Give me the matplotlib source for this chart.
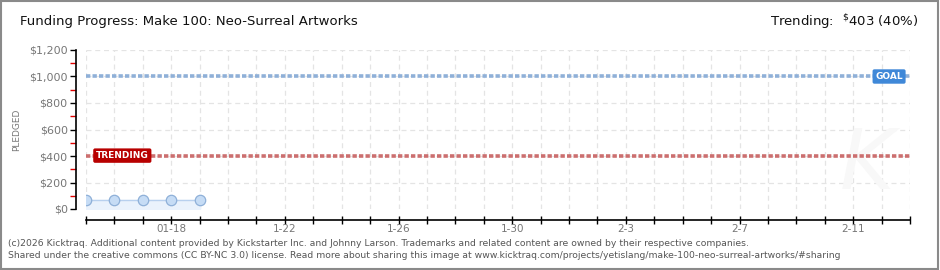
import matplotlib
matplotlib.use('Agg')
import matplotlib.pyplot as plt
from matplotlib.patches import Rectangle
import numpy as np

# data
start_labels = ['01-18', '1-22', '1-26', '1-30', '2-3', '2-7', '2-11']
label_days = [3, 7, 11, 15, 19, 23, 27]   # days after 1-15
n_days = 29
pledge_days = [0, 1, 2, 3, 4]
pledged = [65, 65, 65, 65, 65]
goal = 1000
trending = 403
y_ticks = [0, 200, 400, 600, 800, 1000, 1200]
y_tick_labels = ['$0', '$200', '$400', '$600', '$800', '$1,000', '$1,200']


def main():
	fig = plt.figure(figsize=(9.4, 2.7), dpi=100)
	ax = fig.add_axes([86/940, 61/270, 824/940, 159/270])

	# grid
	for d in range(n_days + 1):
		ax.axvline(d, color='#e4e4e4', lw=0.9, ls=(0, (4, 3)), zorder=0)
	for y in y_ticks[1:]:
		ax.axhline(y, color='#e4e4e4', lw=0.9, ls=(0, (4, 3)), zorder=0)

	# goal / trending lines
	ax.axhline(goal, color='#8fb0d8', lw=2.6, ls=(0, (1.2, 0.6)), zorder=2)
	ax.axhline(trending, color='#cc6f6f', lw=2.6, ls=(0, (1.2, 0.6)), zorder=2)

	# pledged series
	ax.fill_between(pledge_days, 0, pledged, color='#eaf2fc', zorder=1)
	ax.plot(pledge_days, pledged, color='#b8d0ee', lw=1, zorder=3)
	ax.plot(pledge_days, pledged, 'o', ms=7.5, mfc='#c6dcf5', mec='#8fb0d8', mew=0.9, zorder=4)

	# tags
	ax.text(0.35, trending, 'TRENDING', color='white', fontsize=6.5, fontweight='bold',
		ha='left', va='center', zorder=5,
		bbox=dict(boxstyle='round,pad=0.3,rounding_size=0.2', fc='#b80000', ec='none'))
	ax.text(28.75, goal, 'GOAL', color='white', fontsize=6.5, fontweight='bold',
		ha='right', va='center', zorder=5,
		bbox=dict(boxstyle='round,pad=0.3,rounding_size=0.2', fc='#3f88d8', ec='none'))

	# faint watermark
	ax.text(27.5, 330, 'K', fontsize=60, color='#f8f8f8', style='italic',
		ha='center', va='center', zorder=0)

	ax.set_xlim(0, n_days)
	ax.set_ylim(0, 1200)

	ax.spines['top'].set_visible(False)
	ax.spines['right'].set_visible(False)
	ax.spines['left'].set_position(('outward', 7.2))
	ax.spines['bottom'].set_position(('outward', 8))
	ax.spines['left'].set_linewidth(1.2)
	ax.spines['bottom'].set_linewidth(1.2)

	ax.set_xticks(range(n_days + 1))
	xl = [''] * (n_days + 1)
	for d, l in zip(label_days, start_labels):
		xl[d] = l
	ax.set_xticklabels(xl)
	ax.set_yticks(y_ticks)
	ax.set_yticklabels(y_tick_labels)
	ax.set_yticks(np.arange(100, 1200, 200), minor=True)
	ax.tick_params(axis='y', which='minor', length=4, color='#e00000', width=1)
	ax.tick_params(axis='both', which='major', length=4, width=1, color='black',
		labelsize=8, labelcolor='#777777', pad=2)
	ax.tick_params(axis='x', direction='inout', length=6, pad=0, labelsize=7.5)

	ax.set_ylabel('PLEDGED', fontsize=6.5, color='#777777', labelpad=6)

	# header
	fig.text(20/940, 1 - 22/270, 'Funding Progress: Make 100: Neo-Surreal Artworks',
		fontsize=9.5, color='#111111', va='center', ha='left')
	fig.text(918/940, 1 - 22/270, r'Trending:  $^{\$}$403 (40%)', fontsize=9.5,
		color='#111111', va='center', ha='right')

	# footer
	fig.text(8/940, 1 - 243/270,
		'(c)2026 Kicktraq. Additional content provided by Kickstarter Inc. and Johnny Larson. '
		'Trademarks and related content are owned by their respective companies.',
		fontsize=6.7, color='#555555', va='center', ha='left')
	fig.text(8/940, 1 - 256/270,
		'Shared under the creative commons (CC BY-NC 3.0) license. Read more about sharing this image at '
		'www.kicktraq.com/projects/yetislang/make-100-neo-surreal-artworks/#sharing',
		fontsize=6.7, color='#555555', va='center', ha='left')

	# border
	fig.patches.append(Rectangle((0.001, 0.002), 0.997, 0.995, transform=fig.transFigure,
		fill=False, ec='#8a8a8a', lw=1.5))

	fig.savefig('out.png', dpi=100, facecolor='white')


if __name__ == '__main__':
	main()
